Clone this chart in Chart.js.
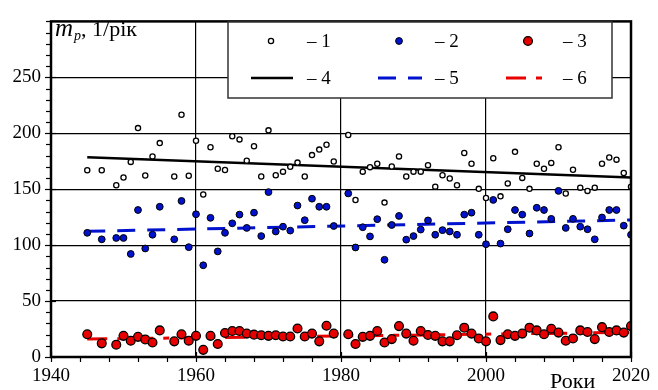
<!DOCTYPE html>
<html>
<head>
<meta charset="utf-8">
<script src="https://cdn.jsdelivr.net/npm/chart.js@4"></script>
<style>
  html, body { margin: 0; padding: 0; background: #fff; }
</style>
</head>
<body>
<canvas id="grafik" width="658" height="390"></canvas>
<script>
// роки спостережень (1946, 1948, 1956, 1980 відсутні)
const roky = [1945, 1947, 1949, 1950, 1951, 1952, 1953, 1954, 1955, 1957, 1958, 1959, 1960,
  1961, 1962, 1963, 1964, 1965, 1966, 1967, 1968, 1969, 1970, 1971, 1972, 1973, 1974, 1975, 1976, 1977, 1978, 1979,
  1981, 1982, 1983, 1984, 1985, 1986, 1987, 1988, 1989, 1990, 1991, 1992, 1993, 1994, 1995, 1996, 1997, 1998, 1999, 2000,
  2001, 2002, 2003, 2004, 2005, 2006, 2007, 2008, 2009, 2010, 2011, 2012, 2013, 2014, 2015, 2016, 2017, 2018, 2019, 2020];

const seria1 = [167, 167, 153.5, 160.4, 174.4, 204.6, 162.2, 179.3, 191.2, 161.3, 216.5, 162, 193.3,
  145.3, 187.5, 168.3, 167.1, 197.3, 194.5, 175.5, 188.4, 161.3, 202.6, 162.5, 165.7, 170, 173.8, 161.3, 180.5, 185.4, 189.8, 174.7,
  198.5, 140.4, 165.7, 169.7, 172.7, 138, 170.3, 179.3, 161.3, 165.7, 165.7, 171.5, 152.3, 162.5, 159.6, 153.5, 182.3, 172.7, 150.3, 142.2,
  177.6, 143.6, 155.2, 183.4, 160.1, 150.3, 172.7, 168.3, 173.5, 187.5, 146.2, 167.4, 151.4, 148.5, 151.4, 172.7, 178.4, 176.4, 164.5, 152.3];

const seria2 = [111, 105.2, 106.4, 106.4, 92.1, 131.4, 97, 109.3, 134.3, 105.2, 139.5, 98.2, 127.6,
  82, 124.4, 94.4, 111, 119.5, 127.3, 115.4, 129, 108.1, 147.4, 112.2, 116.5, 113, 135.4, 122.3, 141.5, 134.3, 134.3, 117.1,
  146.2, 97.9, 116, 107.8, 123.2, 86.9, 118, 126.1, 104.9, 108.1, 113.9, 122.1, 109.3, 113.4, 112.2, 109.3, 127.3, 129, 109.3, 100.8,
  140.4, 101.4, 114.2, 131.4, 127.3, 110.4, 133.4, 131.4, 123.5, 148.5, 115.4, 123.5, 116.5, 114.2, 105.2, 124.7, 131.4, 131.4, 117.4, 109.3];

const seria3 = [20.3, 12.2, 11, 18.9, 14.5, 18, 15.7, 13, 23.8, 14, 20.3, 14.5, 18.9,
  6.4, 18.9, 11.6, 21.5, 23.2, 23.2, 20.9, 20, 19.4, 18.9, 19.4, 18.3, 18.3, 25.5, 18.3, 20.9, 14, 27.9, 20.9,
  20.3, 11.6, 18, 18.9, 23.2, 13, 16, 27.6, 20.9, 14.5, 23.2, 19.7, 18.9, 14, 14, 19.4, 26.2, 20.9, 16.6, 14,
  36.3, 15.1, 20.3, 18.9, 20.9, 26.2, 23.8, 20.3, 25.3, 21.8, 14.5, 16.6, 23.8, 22.3, 16, 26.7, 22.3, 23.8, 21.8, 27.6];

// лінійні тренди (початок і кінець)
const trendRoky = [1945, 2020];
const trend4 = [178.5, 160.5];
const trend5 = [112.3, 122.5];
const trend6 = [16, 22];

const xTicks = [1940, 1960, 1980, 2000, 2020];
const yTicks = [0, 50, 100, 150, 200, 250];

const SERIF = '"Liberation Serif", "Times New Roman", serif';
const BLUE = 'rgb(0, 18, 205)';
const RED = 'rgb(232, 0, 0)';

const toPts = (xs, ys) => xs.map((x, i) => ({ x: x, y: ys[i] }));

// рамка, малі поділки, підписи осі, легенда
const oformlennia = {
  id: 'oformlennia',
  afterDraw(chart) {
    const ctx = chart.ctx;
    const a = chart.chartArea;
    const xs = chart.scales.x, ys = chart.scales.y;
    ctx.save();
    ctx.strokeStyle = '#000';
    ctx.setLineDash([]);

    // поділки осі Y
    ctx.lineWidth = 1.2;
    for (let v = 0; v <= 300; v += 10) {
      const y = Math.round(ys.getPixelForValue(v)) + 0.5;
      const major = yTicks.includes(v);
      ctx.beginPath();
      ctx.moveTo(a.left - (major ? 6 : 5), y);
      ctx.lineTo(a.left + (major ? 5 : 0), y);
      ctx.stroke();
    }
    // поділки осі X
    for (let v = 1940; v <= 2020; v += 4) {
      const x = Math.round(xs.getPixelForValue(v)) + 0.5;
      const major = xTicks.includes(v);
      ctx.beginPath();
      ctx.moveTo(x, a.bottom + 5);
      ctx.lineTo(x, a.bottom - (major ? 5 : 0));
      ctx.stroke();
    }

    // рамка
    ctx.lineWidth = 2.5;
    ctx.strokeRect(a.left, a.top, a.right - a.left, a.bottom - a.top);

    // підпис осі Y
    ctx.fillStyle = '#000';
    ctx.textBaseline = 'alphabetic';
    ctx.textAlign = 'left';
    ctx.font = 'italic 25px ' + SERIF;
    ctx.fillText('m', 55, 36);
    let w = ctx.measureText('m').width;
    ctx.font = 'italic 14px ' + SERIF;
    ctx.fillText('p', 55 + w + 1, 40);
    w += ctx.measureText('p').width + 1;
    ctx.font = '22px ' + SERIF;
    ctx.fillText(', 1/рік', 55 + w, 36);

    // підпис осі X
    ctx.font = '22px ' + SERIF;
    ctx.fillText('Роки', 550, 388);

    // легенда
    const box = { x: 228, y: 22, w: 384, h: 76 };
    ctx.fillStyle = '#fff';
    ctx.fillRect(box.x, box.y, box.w, box.h);
    ctx.lineWidth = 1.5;
    ctx.strokeStyle = '#333';
    ctx.strokeRect(box.x, box.y, box.w, box.h);

    const row1 = 41, row2 = 78;
    const cols = [
      { m: 271, l0: 251, l1: 293, t: 307 },
      { m: 399, l0: 378, l1: 422, t: 435 },
      { m: 528, l0: 506, l1: 542, t: 563 }
    ];
    const marks = [
      { r: 2.6, fill: '#fff', bw: 1.3 },
      { r: 3.4, fill: BLUE, bw: 1 },
      { r: 4.4, fill: RED, bw: 1.3 }
    ];
    const lines = [
      { c: '#000', w: 2.5, d: [] },
      { c: BLUE, w: 3, d: [18, 12] },
      { c: RED, w: 3, d: [20, 10, 6, 10] }
    ];
    ctx.font = '19px ' + SERIF;
    ctx.textBaseline = 'middle';
    cols.forEach((c, i) => {
      const m = marks[i];
      ctx.beginPath();
      ctx.arc(c.m, row1, m.r, 0, Math.PI * 2);
      ctx.fillStyle = m.fill;
      ctx.fill();
      ctx.lineWidth = m.bw;
      ctx.strokeStyle = '#000';
      ctx.setLineDash([]);
      ctx.stroke();
      ctx.fillStyle = '#000';
      ctx.fillText('\u2013 ' + (i + 1), c.t, row1 + 1);

      const l = lines[i];
      ctx.beginPath();
      ctx.setLineDash(l.d);
      ctx.strokeStyle = l.c;
      ctx.lineWidth = l.w;
      ctx.moveTo(c.l0, row2);
      ctx.lineTo(c.l1, row2);
      ctx.stroke();
      ctx.setLineDash([]);
      ctx.fillStyle = '#000';
      ctx.fillText('\u2013 ' + (i + 4), c.t, row2 + 1);
    });
    ctx.restore();
  }
};

const ctx = document.getElementById('grafik').getContext('2d');
new Chart(ctx, {
  type: 'scatter',
  data: {
    datasets: [
      {
        label: '1', data: toPts(roky, seria1), order: 0,
        pointRadius: 2.6, pointBorderWidth: 1.3,
        backgroundColor: '#fff', borderColor: '#000'
      },
      {
        label: '2', data: toPts(roky, seria2), order: 0,
        pointRadius: 3.4, pointBorderWidth: 1,
        backgroundColor: BLUE, borderColor: '#000'
      },
      {
        label: '3', data: toPts(roky, seria3), order: 0,
        pointRadius: 4.4, pointBorderWidth: 1.3,
        backgroundColor: RED, borderColor: '#000'
      },
      {
        type: 'line', label: '4', data: toPts(trendRoky, trend4), order: 1,
        borderColor: '#000', borderWidth: 2.5, pointRadius: 0, fill: false
      },
      {
        type: 'line', label: '5', data: toPts(trendRoky, trend5), order: 1,
        borderColor: BLUE, borderWidth: 3, borderDash: [18, 12], pointRadius: 0, fill: false
      },
      {
        type: 'line', label: '6', data: toPts(trendRoky, trend6), order: 1,
        borderColor: RED, borderWidth: 3, borderDash: [20, 10, 6, 10], pointRadius: 0, fill: false
      }
    ]
  },
  options: {
    responsive: false,
    animation: false,
    devicePixelRatio: 1,
    layout: { padding: { left: 0, top: 12, right: 21, bottom: 0 } },
    plugins: { legend: { display: false }, tooltip: { enabled: false } },
    scales: {
      x: {
        type: 'linear', min: 1940, max: 2020,
        afterFit: s => { s.height = 33; },
        border: { display: false },
        grid: {
          drawTicks: false,
          lineWidth: 1.2,
          color: c => (c.tick && c.tick.value > 1940 && c.tick.value < 2020) ? '#000' : 'rgba(0,0,0,0)'
        },
        ticks: {
          stepSize: 20, padding: 8, color: '#000', maxRotation: 0,
          font: { family: SERIF, size: 19 },
          callback: v => String(v)
        }
      },
      y: {
        min: 0, max: 300,
        afterFit: s => { s.width = 51; },
        border: { display: false },
        grid: {
          drawTicks: false,
          lineWidth: 1.2,
          color: c => (c.tick && c.tick.value > 0 && c.tick.value < 300) ? '#000' : 'rgba(0,0,0,0)'
        },
        ticks: {
          stepSize: 50, padding: 10, color: '#000',
          font: { family: SERIF, size: 19 },
          callback: v => yTicks.includes(v) ? String(v) : ''
        }
      }
    }
  },
  plugins: [oformlennia]
});
</script>
</body>
</html>
